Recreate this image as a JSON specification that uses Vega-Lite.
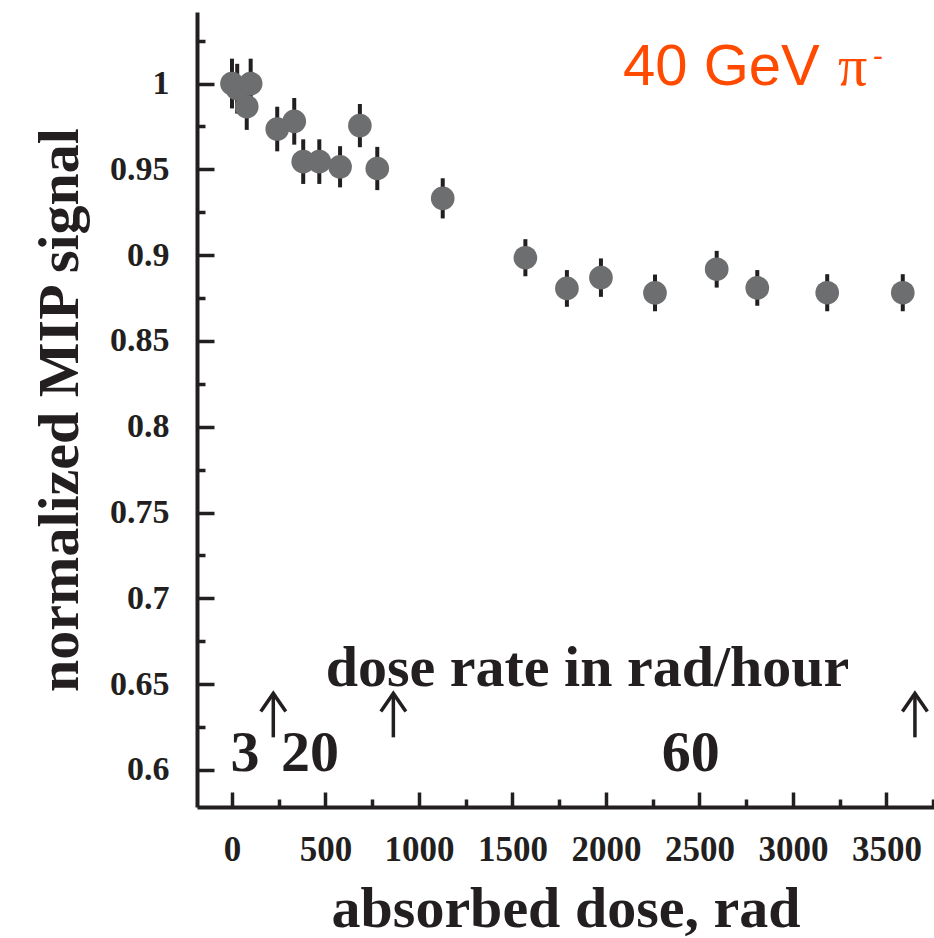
{
  "$schema": "https://vega.github.io/schema/vega-lite/v6.json",
  "autosize": "none",
  "width": 737,
  "height": 795,
  "padding": {"left": 197, "top": 12, "right": 0, "bottom": 131},
  "background": "white",
  "config": {
    "view": {"stroke": null},
    "axis": {
      "grid": false,
      "domainColor": "#231f20",
      "domainWidth": 4,
      "tickColor": "#231f20",
      "tickWidth": 3.5,
      "labelColor": "#231f20",
      "labelFont": "Liberation Serif",
      "labelFontWeight": "bold",
      "titleColor": "#231f20",
      "titleFont": "Liberation Serif",
      "titleFontWeight": "bold"
    }
  },
  "datasets": {
    "mip": [
      {"dose": 0, "signal": 1.0, "lo": 0.9855, "hi": 1.0145},
      {"dose": 28, "signal": 0.997, "lo": 0.9825, "hi": 1.0115},
      {"dose": 79, "signal": 0.9865, "lo": 0.973, "hi": 1.0},
      {"dose": 100, "signal": 1.0, "lo": 0.9855, "hi": 1.0145},
      {"dose": 242, "signal": 0.9735, "lo": 0.9605, "hi": 0.9865},
      {"dose": 333, "signal": 0.978, "lo": 0.9644, "hi": 0.9916},
      {"dose": 381, "signal": 0.9545, "lo": 0.9415, "hi": 0.9675},
      {"dose": 467, "signal": 0.9545, "lo": 0.9415, "hi": 0.9675},
      {"dose": 578, "signal": 0.9515, "lo": 0.9395, "hi": 0.9635},
      {"dose": 684, "signal": 0.9755, "lo": 0.9629, "hi": 0.9881},
      {"dose": 777, "signal": 0.9505, "lo": 0.9379, "hi": 0.9631},
      {"dose": 1127, "signal": 0.9331, "lo": 0.9214, "hi": 0.9448},
      {"dose": 1569, "signal": 0.8985, "lo": 0.8877, "hi": 0.9093},
      {"dose": 1791, "signal": 0.8806, "lo": 0.8699, "hi": 0.8913},
      {"dose": 1973, "signal": 0.8869, "lo": 0.8757, "hi": 0.8981},
      {"dose": 2262, "signal": 0.878, "lo": 0.8673, "hi": 0.8887},
      {"dose": 2592, "signal": 0.8918, "lo": 0.8811, "hi": 0.9025},
      {"dose": 2809, "signal": 0.8809, "lo": 0.8705, "hi": 0.8913},
      {"dose": 3183, "signal": 0.8781, "lo": 0.8673, "hi": 0.8889},
      {"dose": 3587, "signal": 0.8781, "lo": 0.8673, "hi": 0.8889}
    ],
    "rates": [
      {"dose": 1901, "signal": 0.649, "label": "dose rate in rad/hour"},
      {"dose": 70, "signal": 0.5992, "label": "3"},
      {"dose": 417, "signal": 0.5992, "label": "20"},
      {"dose": 2453, "signal": 0.5992, "label": "60"}
    ],
    "changes": [
      {"dose": 221, "tail": 0.619, "tip": 0.6446},
      {"dose": 863, "tail": 0.619, "tip": 0.6446},
      {"dose": 3652, "tail": 0.619, "tip": 0.6446}
    ],
    "beam": [
      {"dose": 2091, "signal": 0.9991, "part": "40 GeV"}
    ],
    "particle": [
      {"dose": 3241, "signal": 0.9991, "part": "π"}
    ],
    "charge": [
      {"dose": 3428, "signal": 1.0155, "part": "-"}
    ]
  },
  "encoding": {
    "x": {
      "field": "dose",
      "type": "quantitative",
      "scale": {"domain": [-187, 3754], "nice": false, "zero": false},
      "axis": {
        "title": "absorbed dose, rad",
        "titleFontSize": 58,
        "titlePadding": 6,
        "values": [0, 250, 500, 750, 1000, 1250, 1500, 1750, 2000, 2250, 2500, 2750, 3000, 3250, 3500, 3750],
        "tickSize": {"condition": {"test": "round(datum.value) % 500 == 0", "value": -15}, "value": -8},
        "labelExpr": "round(datum.value) % 500 == 0 ? format(datum.value, 'd') : ''",
        "labelFontSize": 35,
        "labelPadding": 40,
        "labelFlush": false,
        "labelOverlap": false
      }
    },
    "y": {
      "field": "signal",
      "type": "quantitative",
      "scale": {"domain": [0.5784, 1.0417], "nice": false, "zero": false},
      "axis": {
        "title": "normalized MIP signal",
        "titleFontSize": 58,
        "titlePadding": 20,
        "values": [0.6, 0.625, 0.65, 0.675, 0.7, 0.725, 0.75, 0.775, 0.8, 0.825, 0.85, 0.875, 0.9, 0.925, 0.95, 0.975, 1.0, 1.025],
        "tickSize": {"condition": {"test": "round(datum.value * 1000) % 50 == 0", "value": -17}, "value": -8},
        "labelExpr": "round(datum.value * 1000) % 50 == 0 ? format(datum.value, '~g') : ''",
        "labelFontSize": 34,
        "labelPadding": 45,
        "labelFlush": false,
        "labelOverlap": false
      }
    }
  },
  "layer": [
    {
      "mark": {"type": "rule", "color": "#231f20", "strokeWidth": 4},
      "encoding": {"x": null, "y": {"datum": 1.0417, "type": "quantitative"}}
    },
    {
      "data": {"name": "mip"},
      "mark": {"type": "rule", "color": "#231f20", "strokeWidth": 4},
      "encoding": {"y": {"field": "lo", "type": "quantitative"}, "y2": {"field": "hi"}}
    },
    {
      "data": {"name": "mip"},
      "mark": {"type": "circle", "color": "#6d6e70", "opacity": 1, "size": 560}
    },
    {
      "data": {"name": "rates"},
      "mark": {"type": "text", "font": "Liberation Serif", "fontWeight": "bold", "fontSize": 58, "color": "#231f20", "align": "center", "baseline": "alphabetic"},
      "encoding": {"text": {"field": "label"}}
    },
    {
      "data": {"name": "changes"},
      "mark": {"type": "rule", "color": "#231f20", "strokeWidth": 3.5},
      "encoding": {"y": {"field": "tail", "type": "quantitative"}, "y2": {"field": "tip"}}
    },
    {
      "data": {"name": "changes"},
      "mark": {"type": "point", "shape": "M-1,1.45L0,0L1,1.45", "filled": false, "color": "#231f20", "strokeWidth": 3.5, "opacity": 1, "size": 625, "strokeJoin": "miter"},
      "encoding": {"y": {"field": "tip", "type": "quantitative"}}
    },
    {
      "data": {"name": "beam"},
      "mark": {"type": "text", "font": "Liberation Sans", "fontSize": 58, "color": "#ff4a00", "align": "left", "baseline": "alphabetic"},
      "encoding": {"text": {"field": "part"}}
    },
    {
      "data": {"name": "particle"},
      "mark": {"type": "text", "font": "Liberation Serif", "fontSize": 58, "color": "#ff4a00", "align": "left", "baseline": "alphabetic"},
      "encoding": {"text": {"field": "part"}}
    },
    {
      "data": {"name": "charge"},
      "mark": {"type": "text", "font": "Liberation Sans", "fontSize": 30, "color": "#ff4a00", "align": "left", "baseline": "middle"},
      "encoding": {"text": {"field": "part"}}
    }
  ]
}
